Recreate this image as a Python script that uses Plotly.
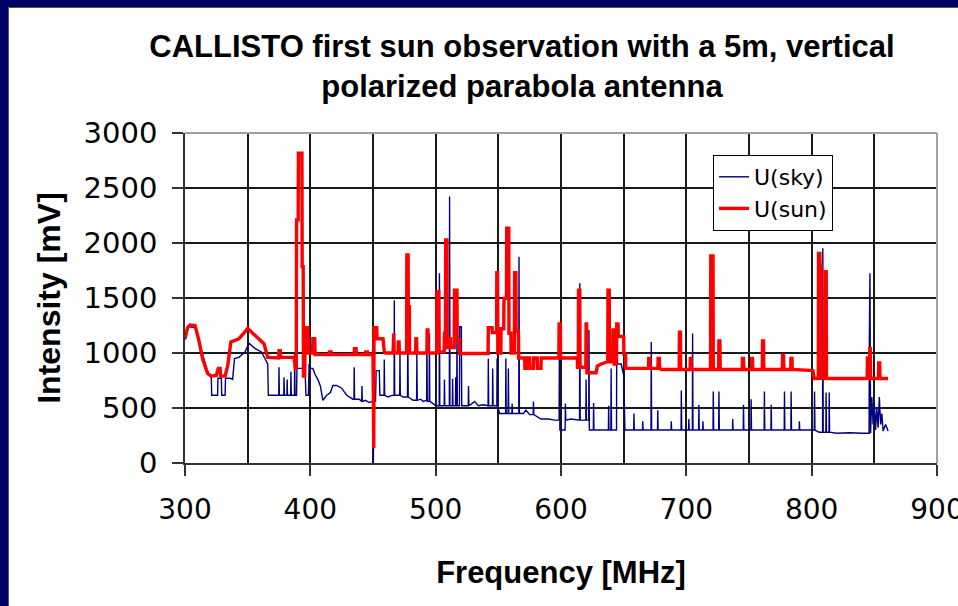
import plotly.graph_objects as go

# ---------------- data ----------------
# U(sky): (frequency MHz, intensity mV)
sky_points = [
    (300, 1120), (303, 1240), (308, 1230), (311, 1100), (314, 990), (318, 830), (321, 770),
    (321.3, 616), (326, 616), (326.3, 770), (329, 770), (329.3, 616), (332, 616), (332.3, 770),
    (336, 770), (338, 760), (339.5, 950), (343, 960), (348, 1010), (351, 1090), (356, 1040),
    (361, 1010), (364, 940), (366, 900), (366.5, 616),
    (374.8, 616), (375, 870), (375.3, 616), (378.8, 616), (379, 780), (379.3, 616),
    (381.3, 616), (381.5, 760), (381.8, 616), (384.3, 616), (384.5, 830), (384.8, 616),
    (387.3, 616), (387.5, 1010), (387.8, 616), (389, 616), (389.3, 860), (394, 860),
    (395, 1000), (396, 780), (396.5, 616), (398.5, 616), (399, 900), (400, 860), (402, 860),
    (404, 800), (406, 760), (408, 700), (410, 570), (413, 616), (416, 640), (418, 705),
    (421, 705), (425, 680), (429, 616), (434, 580), (434.8, 580), (435, 870), (435.3, 580),
    (439, 580), (441, 560), (441.2, 700), (441.5, 560), (444, 570), (447, 550), (450, 560),
    (450.3, 0), (450.6, 560), (452, 560), (452.5, 840), (455, 840), (455.5, 616),
    (458.8, 616), (459, 940), (459.3, 616), (462, 600), (464, 610), (466.8, 616),
    (467, 1480), (467.3, 616), (471.3, 616), (471.5, 990), (471.8, 616), (474, 600),
    (477.5, 600), (477.8, 1180), (478.1, 600), (482, 570), (484.8, 570), (485, 990),
    (485.3, 570), (488, 580), (490, 560), (492.8, 570), (493, 1210), (493.3, 560),
    (494.8, 560), (495, 1180), (495.3, 560), (498, 540), (500, 520),
    (502.8, 520), (503, 1724), (503.3, 520), (506.8, 520), (507, 760), (507.3, 520),
    (510.9, 520), (511.1, 2422), (511.4, 520), (513.3, 520), (513.5, 765), (513.8, 520),
    (515.8, 520), (516, 780), (516.3, 520), (516.8, 520), (517, 1210), (517.3, 520),
    (519, 520), (519.2, 1240), (520.5, 1240), (520.8, 520), (526, 520), (526.2, 700),
    (526.5, 520), (529, 540), (531, 560), (534, 520), (538, 530), (541.8, 520), (542, 950),
    (542.3, 520), (545.3, 520), (545.5, 860), (545.8, 520), (548.8, 520), (549, 950),
    (549.3, 520), (551, 450), (555.8, 450), (556, 950), (556.3, 450), (557.8, 450),
    (558, 860), (558.3, 450), (560.8, 450), (561, 540), (561.3, 450), (566.3, 450),
    (566.5, 1875), (566.8, 450), (570, 450), (572, 480), (575, 440), (577.8, 440),
    (578, 560), (578.3, 440), (584, 400), (590, 400), (595, 390), (598.5, 390),
    (598.8, 1260), (599.1, 300), (601, 300), (603.3, 300), (603.5, 540), (603.8, 390),
    (608, 400), (613, 390), (614.8, 390), (615, 1633), (615.3, 390), (619.8, 390),
    (620, 760), (620.3, 390), (622.1, 390), (622.3, 1210), (622.6, 300), (625.8, 300),
    (626, 545), (626.3, 300), (634, 300), (637.8, 300), (638, 520), (638.3, 300),
    (639.8, 300), (640, 860), (640.3, 300), (644.3, 300), (644.5, 1240), (645, 900),
    (648, 900), (650, 800), (651, 300),
    (658, 300), (658.2, 450), (658.5, 300), (665, 300), (665.2, 380), (665.5, 300),
    (671.8, 300), (672, 1100), (672.3, 300), (677, 300), (677.2, 480), (677.5, 300),
    (687.8, 300), (688, 380), (688.3, 300), (695.8, 300), (696, 660), (696.3, 300),
    (701.8, 300), (702, 400), (702.3, 300), (704.8, 300), (705, 1178), (705.3, 300),
    (709.8, 300), (710, 530), (710.3, 300), (713, 300), (713.2, 380), (713.5, 300),
    (721.3, 300), (721.5, 650), (721.8, 300), (725.8, 300), (726, 650), (726.3, 300),
    (736.8, 300), (737, 400), (737.3, 300), (745.4, 300), (745.6, 530), (745.9, 300),
    (751.5, 300), (751.7, 580), (752, 300), (762.1, 300), (762.3, 650), (762.6, 300),
    (767.5, 300), (767.7, 530), (768, 300), (778.1, 300), (778.3, 650), (778.6, 300),
    (783.4, 300), (783.6, 650), (783.9, 300), (790, 300), (790.2, 380), (790.5, 300),
    (802.1, 300), (802.3, 650), (802.6, 300), (806, 280), (808.7, 280), (808.9, 1952),
    (809.2, 280), (811.3, 280), (811.5, 640), (811.8, 280), (813.8, 280), (814, 640),
    (814.3, 280), (820, 270), (830, 275), (840, 270), (845.8, 270), (846, 1100),
    (846.5, 1724), (847, 270), (848, 600), (849, 350), (850, 550), (851, 300), (852, 500),
    (853, 320), (854, 600), (855, 350), (856, 450), (857, 290), (859, 350), (861, 290),
]

# U(sun): (frequency MHz, intensity mV)
sun_points = [
    (300, 1130), (302, 1230), (304, 1255), (308, 1250), (311, 1120), (314, 950), (318, 815),
    (321, 790), (325, 795), (326.5, 860), (328, 860), (328.5, 790), (332, 790), (334, 880),
    (336.6, 1100), (343, 1130), (347, 1180), (350, 1225), (354, 1180), (359, 1130),
    (363, 1085), (366, 960), (370, 955), (374.8, 955), (375, 1020), (376, 1020), (376.2, 960),
    (387, 960), (388, 860), (388.8, 860), (389, 2210), (390.3, 2210), (390.5, 2817),
    (393.3, 2817), (393.5, 1785), (394.3, 1785), (394.5, 790), (395.5, 790), (395.8, 1130),
    (396.5, 1230), (398, 1230), (398.5, 1000), (401.8, 1000), (402, 1130), (403.5, 1130),
    (403.8, 985), (415, 985), (415.2, 1010), (416.5, 1010), (416.7, 985), (435, 985),
    (435.2, 1040), (436.5, 1040), (436.7, 985), (444, 985), (444.2, 1010), (445.5, 1010),
    (445.7, 985), (450, 985), (450.2, 134), (450.6, 134), (450.8, 1230), (453, 1230),
    (453.2, 1130), (458, 1130), (459, 1010), (460, 1000), (466, 1000), (466.2, 1180),
    (466.6, 1180), (466.8, 1000), (470, 1000), (470.2, 1100), (470.8, 1100), (471, 1000),
    (476.8, 1000), (477, 1891), (478, 1891), (478.2, 1420), (479, 1420), (479.2, 1000),
    (484, 1000), (484.2, 1130), (484.8, 1130), (485, 1000), (493, 1000), (493.2, 1210),
    (493.8, 1210), (494, 1000), (500.8, 1000), (501, 1557), (502.5, 1557), (502.7, 1010),
    (506.8, 1010), (507, 1180), (507.8, 1180), (508, 2028), (509, 2028), (509.2, 1050),
    (510.8, 1050), (511, 1130), (511.8, 1130), (512, 1050), (514.8, 1050), (515, 1570),
    (517, 1570), (517.2, 1100), (519, 1130), (519.2, 995), (541.8, 995), (542, 1230),
    (545, 1230), (545.2, 1185), (548.6, 1185), (548.8, 1730), (549.4, 1730), (549.6, 1000),
    (552, 1000), (552.2, 1220), (554.3, 1220), (554.5, 1497), (556.5, 1497), (556.7, 2134),
    (558.3, 2134), (558.5, 1180), (560, 1180), (560.2, 1000), (562.8, 1000), (563, 1730),
    (564, 1730), (564.2, 1200), (566, 1200), (566.2, 955), (571, 955), (571.2, 860),
    (573, 860), (573.2, 955), (575, 955), (575.2, 860), (578, 860), (578.2, 955),
    (581, 955), (581.2, 860), (584, 860), (584.2, 955), (588, 955), (588.2, 955),
    (598.3, 955), (598.5, 1263), (599.5, 1263), (599.7, 955), (613, 955), (613.2, 870),
    (613.8, 870), (614, 1572), (615, 1572), (615.2, 870), (619.8, 870), (620, 1263),
    (620.5, 1263), (620.7, 820), (628, 820), (629, 880), (632, 900), (637.3, 920),
    (637.5, 1572), (638.5, 1572), (638.7, 920), (641.3, 920), (641.5, 1210), (642.3, 1210),
    (642.5, 900), (644.3, 900), (644.5, 1263), (645.5, 1263), (645.7, 1150), (650, 1150),
    (650.2, 990), (651.5, 990), (651.7, 860), (669.8, 860), (670, 950), (670.8, 950),
    (671, 860), (677.3, 860), (677.5, 950), (678.5, 950), (678.7, 860), (680, 850),
    (694.3, 850), (694.5, 1190), (695.3, 1190), (695.5, 850), (703, 850), (703.2, 950),
    (703.8, 950), (704, 850), (719.3, 850), (719.5, 1882), (721.3, 1882), (721.5, 850),
    (725.8, 850), (726, 1110), (726.8, 1110), (727, 850), (744.6, 850), (744.8, 950),
    (745.6, 950), (745.8, 850), (752, 850), (752.2, 950), (752.8, 950), (753, 850),
    (760.6, 850), (760.8, 1110), (761.6, 1110), (761.8, 850), (776.6, 850), (776.8, 980),
    (777.6, 980), (777.8, 850), (783.3, 850), (783.5, 950), (784.3, 950), (784.5, 850),
    (801, 840), (802, 768), (805.3, 768), (805.5, 1906), (806.5, 1906), (806.7, 1800),
    (807.5, 1800), (807.7, 770), (810.6, 770), (810.8, 1739), (811.6, 1739), (811.8, 768),
    (844.3, 768), (844.5, 955), (846.2, 955), (846.4, 1040), (846.8, 1040), (847, 768),
    (853.3, 768), (853.5, 910), (854.3, 910), (854.5, 768), (861, 768),
]

x_ticks = [300, 400, 500, 600, 700, 800, 900]
y_ticks = [0, 500, 1000, 1500, 2000, 2500, 3000]

sky_freq = [p[0] for p in sky_points]
sky_mv = [p[1] for p in sky_points]
sun_freq = [p[0] for p in sun_points]
sun_mv = [p[1] for p in sun_points]

# ---------------- layout geometry (pixels) ----------------
W, H = 958, 606
ML, MR, MT, MB = 185, 21, 133, 143
PW, PH = W - ML - MR, H - MT - MB


def px2x(px):
    return (px - ML) / PW


def py2y(py):
    return (H - MB - py) / PH


NAVY = "#000066"

fig = go.Figure()
fig.add_trace(go.Scatter(x=sky_freq, y=sky_mv, mode="lines", name="U(sky)",
                         line=dict(color="#000080", width=1.4)))
fig.add_trace(go.Scatter(x=sun_freq, y=sun_mv, mode="lines", name="U(sun)",
                         line=dict(color="#ff0000", width=3.4)))

shapes = [
    # navy frame (top and left)
    dict(type="rect", xref="paper", yref="paper", x0=px2x(-2), x1=px2x(W + 2),
         y0=py2y(7), y1=py2y(-2), fillcolor=NAVY, line=dict(width=0), layer="below"),
    dict(type="rect", xref="paper", yref="paper", x0=px2x(-2), x1=px2x(8),
         y0=py2y(H + 2), y1=py2y(-2), fillcolor=NAVY, line=dict(width=0), layer="below"),
    dict(type="line", xref="paper", yref="paper", x0=px2x(8.5), x1=px2x(W + 2),
         y0=py2y(7.5), y1=py2y(7.5), line=dict(color="#555555", width=1), layer="below"),
    dict(type="line", xref="paper", yref="paper", x0=px2x(8.5), x1=px2x(8.5),
         y0=py2y(7.5), y1=py2y(H + 2), line=dict(color="#555555", width=1), layer="below"),
    # grey top / right plot border
    dict(type="line", xref="paper", yref="paper", x0=0, x1=1, y0=1, y1=1,
         line=dict(color="#a0a0a0", width=2), layer="above"),
    dict(type="line", xref="paper", yref="paper", x0=1, x1=1, y0=0, y1=1,
         line=dict(color="#a0a0a0", width=2), layer="above"),
]

fig.update_layout(
    width=W, height=H,
    margin=dict(l=ML, r=MR, t=MT, b=MB, pad=0, autoexpand=False),
    paper_bgcolor="white", plot_bgcolor="white",
    shapes=shapes,
    showlegend=True,
    title=dict(text="<b>CALLISTO first sun observation with a 5m, vertical<br>polarized parabola antenna</b>",
               x=522 / W, xanchor="center", xref="container",
               y=1 - 57 / H, yanchor="top", yref="container",
               font=dict(family="Liberation Sans, Arial", size=31, color="black")),
    legend=dict(x=px2x(713), y=py2y(155), xanchor="left", yanchor="top",
                bgcolor="white", bordercolor="black", borderwidth=1,
                font=dict(family="DejaVu Sans", size=22, color="black"),
                tracegroupgap=0),
    xaxis=dict(range=[300, 900], tickvals=x_ticks, ticktext=[str(v) for v in x_ticks],
               automargin=False,
               showgrid=True, gridcolor="#1a1a1a", gridwidth=1.6,
               minor=dict(dtick=50, tick0=300, showgrid=True, gridcolor="#1a1a1a", gridwidth=1.6, ticks=""),
               showline=True, linecolor="#333333", linewidth=1.6,
               ticks="outside", ticklen=11, tickwidth=1.5, tickcolor="#333333",
               ticklabelstandoff=10, ticklabeloverflow="allow",
               tickfont=dict(family="DejaVu Sans", size=28, color="black"),
               zeroline=False,
               title=dict(text="<b>Frequency [MHz]</b>", standoff=36,
                          font=dict(family="Liberation Sans, Arial", size=31, color="black"))),
    yaxis=dict(range=[0, 3000], tickvals=y_ticks, ticktext=[str(v) for v in y_ticks],
               automargin=False,
               showgrid=True, gridcolor="#1a1a1a", gridwidth=1.6,
               showline=True, linecolor="#333333", linewidth=1.6,
               ticks="outside", ticklen=11, tickwidth=1.5, tickcolor="#333333",
               ticklabelstandoff=9,
               tickfont=dict(family="DejaVu Sans", size=29, color="black"),
               zeroline=False,
               title=dict(text="<b>Intensity [mV]</b>", standoff=13,
                          font=dict(family="Liberation Sans, Arial", size=32, color="black"))),
)

fig.write_html("out.html")
